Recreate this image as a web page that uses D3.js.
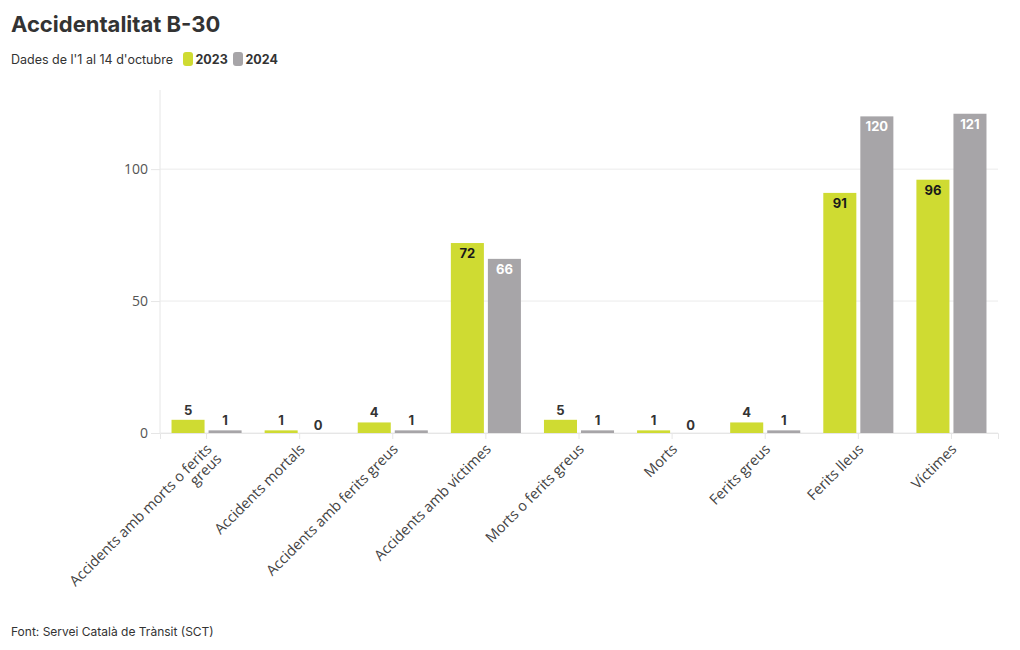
<!DOCTYPE html>
<html><head><meta charset="utf-8">
<script src="https://cdn.jsdelivr.net/npm/d3@7"></script>
<style>
body{margin:0;background:#fff;}
svg{font-family:"Open Sans",sans-serif;}
</style></head>
<body><svg id="c" width="1020" height="650"></svg>
<script>
const categories = ["Accidents amb morts o ferits greus","Accidents mortals","Accidents amb ferits greus","Accidents amb víctimes","Morts o ferits greus","Morts","Ferits greus","Ferits lleus","Víctimes"];
const labelLines = [["Accidents amb morts o ferits","greus"],["Accidents mortals"],["Accidents amb ferits greus"],["Accidents amb víctimes"],["Morts o ferits greus"],["Morts"],["Ferits greus"],["Ferits lleus"],["Víctimes"]];
const seriesNames = ["2023","2024"];
const values2023 = [5,1,4,72,5,1,4,91,96];
const values2024 = [1,0,1,66,1,0,1,120,121];
const yTicks = [0,50,100];
const colors = ["#cfdb32","#a7a5a8"];

const svg = d3.select("#c");
const m = {l:160, r:998, t:90, b:433};
const x = d3.scaleBand().domain(categories).range([m.l, m.r]).paddingInner(0).paddingOuter(0);
const xi = d3.scaleBand().domain(seriesNames).range([0, x.bandwidth()]).paddingInner(0.108).paddingOuter(0.311);
const y = d3.scaleLinear().domain([0,130]).range([m.b, m.t]);

// title
svg.append("text").attr("x",11).attr("y",32).text("Accidentalitat B-30")
  .attr("font-family","Inter, 'Open Sans', sans-serif").attr("font-weight",700).attr("font-size",22).attr("fill","#333");
const sub = svg.append("text").attr("x",11).attr("y",64).attr("font-family","Inter, sans-serif").attr("font-size",12.5).attr("fill","#333");
sub.text("Dades de l'1 al 14 d'octubre");
// legend
const legX = [183, 233];
seriesNames.forEach((s,i)=>{
  svg.append("rect").attr("x",legX[i]).attr("y",52).attr("width",10).attr("height",14).attr("rx",3).attr("fill",colors[i]);
  svg.append("text").attr("x",legX[i]+12.5).attr("y",64).text(s).attr("font-family","Inter, sans-serif").attr("font-weight",700).attr("font-size",12.5).attr("fill","#333");
});

// y axis + gridlines
const yAxis = d3.axisLeft(y).tickValues(yTicks).tickSize(9).tickPadding(3);
const gy = svg.append("g").attr("transform",`translate(${m.l},0)`).call(yAxis);
gy.select(".domain").attr("stroke","#e6e6e6").attr("d",`M0,${m.t}V${m.b}`);
gy.selectAll(".tick line").attr("stroke","#e6e6e6");
gy.selectAll(".tick text").attr("font-size",14).attr("fill","#555").attr("font-family","'Open Sans',sans-serif");
svg.append("g").selectAll("line").data(yTicks).join("line")
  .attr("x1",m.l).attr("x2",m.r).attr("y1",d=>y(d)).attr("y2",d=>y(d)).attr("stroke","#ebebeb");

// x axis
const xAxis = d3.axisBottom(x).tickSize(6).tickFormat("");
const gx = svg.append("g").attr("transform",`translate(0,${m.b})`).call(xAxis);
gx.select(".domain").attr("stroke","#e6e6e6");
gx.selectAll(".tick line").attr("stroke","#e6e6e6");
categories.forEach((c,i)=>{
  const cx = x(c)+x.bandwidth()/2;
  const t = svg.append("text").attr("transform",`translate(${cx+6},${m.b+17}) rotate(-45)`)
    .attr("text-anchor","end").attr("font-size",14.5).attr("fill","#444");
  labelLines[i].forEach((ln,j)=>{
    t.append("tspan").attr("x",0).attr("dy", j===0 ? 0 : 14).text(ln);
  });
});

// bars
const data = categories.map((c,i)=>({c, v:[values2023[i], values2024[i]]}));
const g = svg.append("g");
data.forEach(d=>{
  d.v.forEach((v,k)=>{
    const bx = x(d.c)+xi(seriesNames[k]);
    const bw = xi.bandwidth();
    const top = y(v);
    const hh = m.b - top;
    if (v>0) g.append("rect").attr("x",bx).attr("y",top).attr("width",bw).attr("height",hh).attr("fill",colors[k]);
    const inside = hh > 30;
    const lt = svg.append("text").attr("x",bx+bw/2).attr("text-anchor","middle")
      .attr("font-size",13).attr("font-weight",700).attr("font-family","Inter, sans-serif").text(v);
    if (inside) {
      lt.attr("y",top+15).attr("fill", k===0 ? "#1a1a1a" : "#fff");
    } else {
      lt.attr("y", v===0 ? m.b-3 : top-5).attr("fill","#333");
    }
  });
});

svg.append("text").attr("x",11).attr("y",636).text("Font: Servei Català de Trànsit (SCT)")
  .attr("font-family","Inter, sans-serif").attr("font-size",12).attr("fill","#333");
</script></body></html>
